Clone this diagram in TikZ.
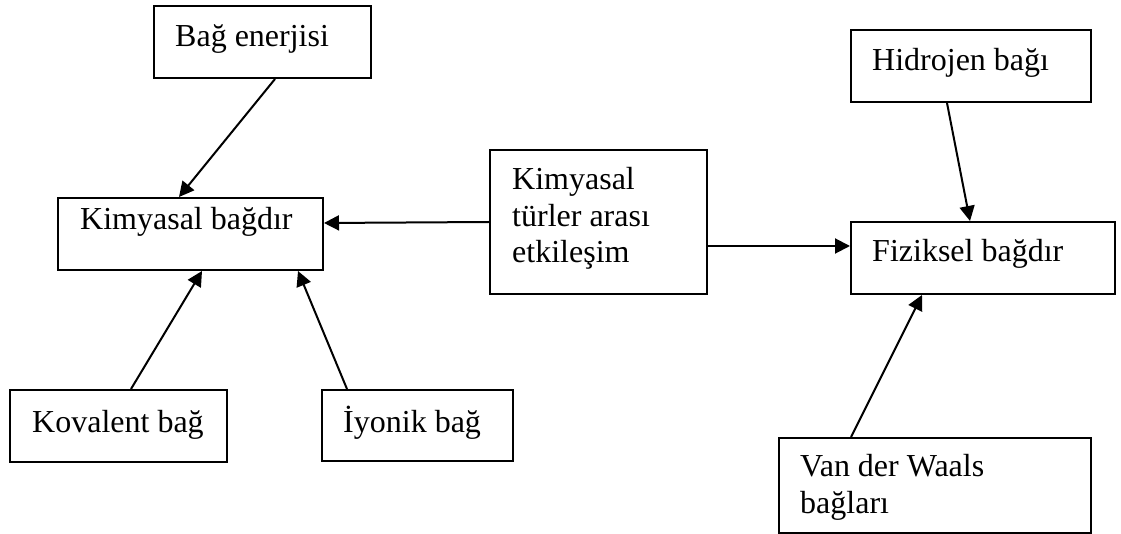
\documentclass[tikz,border=0pt]{standalone}
\usepackage{fontspec}
\setmainfont{Liberation Serif}
\usetikzlibrary{arrows.meta}
\begin{document}
\begin{tikzpicture}[x=1pt,y=-1pt,
  boxnode/.style={draw,line width=2pt,rectangle,inner sep=0pt},
  txt/.style={anchor=base west,inner sep=0pt,align=left,font=\fontsize{32}{36.5}\selectfont},
  conn/.style={line width=2pt,-{Triangle[length=15pt,width=15pt]}}]
\useasboundingbox (0,0) rectangle (1121,534);
% boxes
\node[boxnode,minimum width=217,minimum height=72] (be) at (262.5,42) {};
\node[boxnode,minimum width=265,minimum height=72] (kb) at (190.5,234) {};
\node[boxnode,minimum width=217,minimum height=144] (kt) at (598.5,222) {};
\node[boxnode,minimum width=264,minimum height=72] (fb) at (983,258) {};
\node[boxnode,minimum width=240,minimum height=72] (hb) at (971,66) {};
\node[boxnode,minimum width=217,minimum height=72] (kov) at (118.5,426) {};
\node[boxnode,minimum width=191,minimum height=71] (iy) at (417.5,425.5) {};
\node[boxnode,minimum width=312,minimum height=95] (vdw) at (935,485.5) {};
% texts (base = last line)
\node[txt] (tbe) at (175,47) {Bağ enerjisi};
\node[txt] (tkb) at (80,230) {Kimyasal bağdır};
\node[txt] (tkt) at (512,263) {Kimyasal\\türler arası\\etkileşim};
\node[txt] (tfb) at (872,262) {Fiziksel bağdır};
\node[txt] (thb) at (872,71) {Hidrojen bağı};
\node[txt] (tkov) at (32,432) {Kovalent bağ};
\node[txt] (tiy) at (343,432) {İyonik bağ};
\node[txt] (tvdw) at (800,513) {Van der Waals\\bağları};
% connectors
\draw[conn] ([xshift=12.5pt]be.south) -- ([xshift=-11.5pt]kb.north);
\draw[conn] (kt.west) -- ([yshift=11pt]kb.east);
\draw[conn] ([yshift=-24pt]kt.east) -- ([yshift=12pt]fb.west);
\draw[conn] ([xshift=-24pt]hb.south) -- ([xshift=-13pt]fb.north);
\draw[conn] ([xshift=-84pt]vdw.north) -- ([xshift=-61pt]fb.south);
\draw[conn] ([xshift=12.5pt]kov.north) -- ([xshift=11.5pt]kb.south);
\draw[conn] ([xshift=-70.5pt]iy.north) -- ([xshift=107.5pt]kb.south);
\end{tikzpicture}
\end{document}
